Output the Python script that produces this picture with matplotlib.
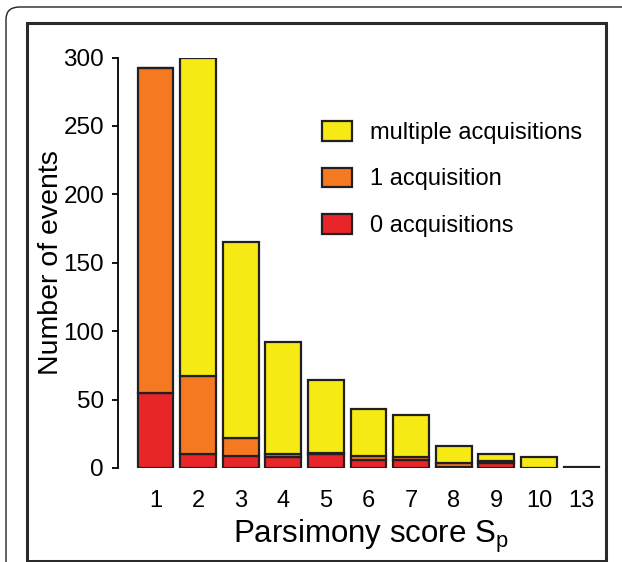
import matplotlib
matplotlib.use("Agg")
import matplotlib.pyplot as plt
from matplotlib.patches import Rectangle, FancyBboxPatch, Patch
import numpy as np

plt.rcParams['font.family'] = ['Liberation Sans', 'DejaVu Sans']
plt.rcParams['mathtext.fontset'] = 'custom'
plt.rcParams['mathtext.rm'] = 'Liberation Sans'
plt.rcParams['mathtext.it'] = 'Liberation Sans'

# Data
categories = ['1', '2', '3', '4', '5', '6', '7', '8', '9', '10', '13']
zero_acq = [55, 10, 9, 8, 10, 6, 6, 1, 4, 0, 0]
one_acq = [237, 57, 13, 2, 1, 3, 2, 3, 1, 0, 0]
multi_acq = [0, 233, 143, 82, 53, 34, 31, 12, 5, 8, 1]
y_ticks = [0, 50, 100, 150, 200, 250, 300]

c_red = '#E8262A'
c_orange = '#F47920'
c_yellow = '#F6EA14'
c_edge = '#231F20'

W, H = 622, 562
fig = plt.figure(figsize=(W / 100, H / 100), dpi=100)

def fx(px):
    return px / W

def fy(py):
    return 1 - py / H

# frames
outer = FancyBboxPatch((fx(6), fy(600)), fx(700), fy(7) - fy(600),
                       boxstyle="round,pad=0,rounding_size=0.022",
                       transform=fig.transFigure, fill=False,
                       edgecolor='#222222', linewidth=1.0, figure=fig)
fig.patches.append(outer)
inner = Rectangle((fx(27), fy(561)), fx(606) - fx(27), fy(23) - fy(561),
                  transform=fig.transFigure, fill=False,
                  edgecolor='#2a2a2a', linewidth=2.2, figure=fig)
fig.patches.append(inner)

ax_left, ax_right = 118, 605
ax_bottom, ax_top = 468, 57.5
ax = fig.add_axes([fx(ax_left), fy(ax_bottom), fx(ax_right) - fx(ax_left),
                   fy(ax_top) - fy(ax_bottom)])
ax.patch.set_alpha(0)

x = np.arange(len(categories))
bw = 0.84
kw = dict(width=bw, edgecolor=c_edge, linewidth=1.6)
zero = np.array(zero_acq)
one = np.array(one_acq)
multi = np.array(multi_acq)
ax.bar(x, zero, color=c_red, label='0 acquisitions', **kw)
ax.bar(x, one, bottom=zero, color=c_orange, label='1 acquisition', **kw)
ax.bar(x, multi, bottom=zero + one, color=c_yellow, label='multiple acquisitions', **kw)

ax.set_xlim(-0.88, 10.55)
ax.set_ylim(0, 300)
ax.set_xticks(x)
ax.set_xticklabels(categories)
ax.set_yticks(y_ticks)
ax.tick_params(axis='x', length=0, pad=16, labelsize=17)
ax.tick_params(axis='y', length=4, width=1.3, pad=6, labelsize=17.5, direction='out')
for s in ['top', 'right', 'bottom']:
    ax.spines[s].set_visible(False)
ax.spines['left'].set_linewidth(1.3)
ax.spines['left'].set_bounds(0, 300)

ax.set_ylabel('Number of events', fontsize=20.5)
ax.yaxis.set_label_coords(-0.11, 0.5)
ax.set_xlabel('Parsimony score S$_\\mathrm{p}$', fontsize=22.5)
ax.xaxis.set_label_coords(0.52, -0.122)

handles = [Patch(facecolor=c_yellow, edgecolor=c_edge, linewidth=1.6),
           Patch(facecolor=c_orange, edgecolor=c_edge, linewidth=1.6),
           Patch(facecolor=c_red, edgecolor=c_edge, linewidth=1.6)]
labels = ['multiple acquisitions', '1 acquisition', '0 acquisitions']
leg = fig.legend(handles, labels, loc='upper left',
                 bbox_to_anchor=(fx(322), fy(121)), frameon=False,
                 fontsize=17, handlelength=1.25, handleheight=0.9,
                 handletextpad=0.8, labelspacing=1.0, borderpad=0,
                 borderaxespad=0)

fig.savefig('out.png', dpi=100)
